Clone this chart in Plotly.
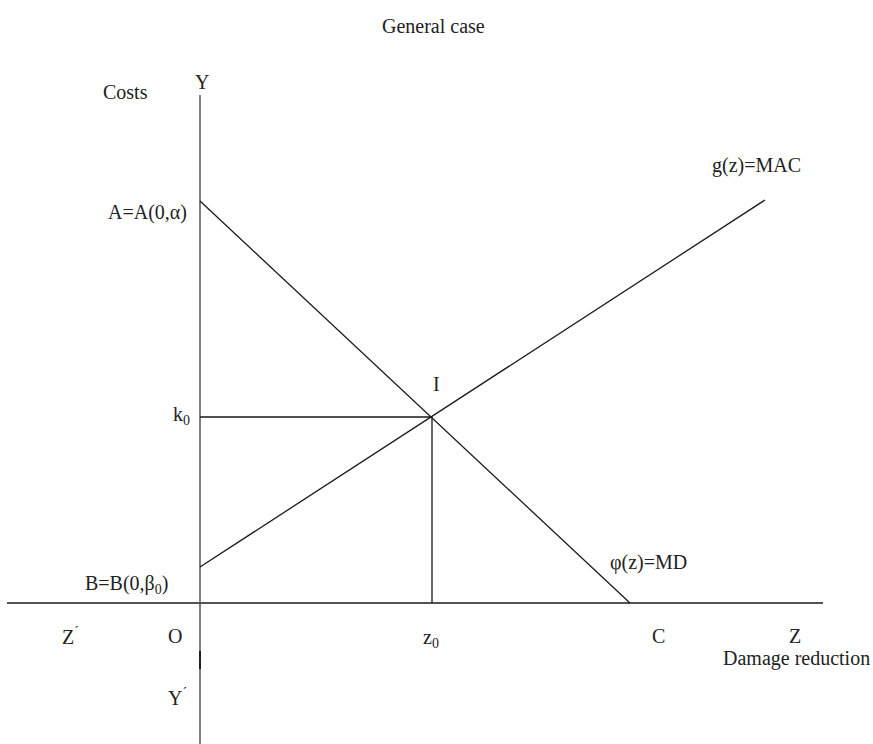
import plotly.graph_objects as go

# Marginal damage line phi(z)=MD : from A(0, alpha) down to C on the Z axis
md_z = [0, 430]
md_cost = [402, 0]

# Marginal abatement cost line g(z)=MAC : from B(0, beta0) upward
mac_z = [0, 565]
mac_cost = [36, 403]

# Equilibrium point I = (z0, k0)
z0 = 232
k0 = 186

# Axis extents (Z'Z horizontal, Y'Y vertical)
z_axis = [-193, 623]
y_axis = [508, -141]

FONT = "Liberation Serif"
LINE = "#1a1a1a"
AXIS = "#555555"

fig = go.Figure()

fig.add_trace(go.Scatter(x=z_axis, y=[0, 0], mode="lines",
                         line=dict(color=LINE, width=1.5), hoverinfo="skip"))
fig.add_trace(go.Scatter(x=[0, 0], y=y_axis, mode="lines",
                         line=dict(color=AXIS, width=1.5), hoverinfo="skip"))
# short darker stretch on the negative Y axis
fig.add_trace(go.Scatter(x=[0, 0], y=[-48, -66], mode="lines",
                         line=dict(color="#222222", width=2), hoverinfo="skip"))
fig.add_trace(go.Scatter(x=md_z, y=md_cost, mode="lines",
                         line=dict(color=LINE, width=1.3), hoverinfo="skip"))
fig.add_trace(go.Scatter(x=mac_z, y=mac_cost, mode="lines",
                         line=dict(color=LINE, width=1.3), hoverinfo="skip"))
# projections of I onto both axes
fig.add_trace(go.Scatter(x=[0, z0, z0], y=[k0, k0, 0], mode="lines",
                         line=dict(color=LINE, width=1.3), hoverinfo="skip"))

labels = [
    ("General case", 233, 577, "center"),
    ("Y", 2, 521, "center"),
    ("Costs", -75, 511, "center"),
    ("A=A(0,α)", -12, md_cost[0] - 11, "right"),
    ("k<sub>0</sub>", -9, k0 + 2, "right"),
    ("I", z0 + 4, k0 + 33, "center"),
    ("g(z)=MAC", 556, 438, "center"),
    ("B=B(0,β<sub>0</sub>)", -31, 19, "right"),
    ("φ(z)=MD", 448, 41, "center"),
    ("Z<sup>´</sup>", -130, -33, "center"),
    ("O", -25, -33, "center"),
    ("z<sub>0</sub>", z0 - 1, -35, "center"),
    ("C", md_z[1] + 28, -33, "center"),
    ("Z", 595, -33, "center"),
    ("Damage reduction", 671, -55, "right"),
    ("Y<sup>´</sup>", -23, -94, "center"),
]
for text, x, y, align in labels:
    fig.add_annotation(x=x, y=y, text=text, showarrow=False, xref="x", yref="y",
                       font=dict(family=FONT, size=20, color="#222222"),
                       xanchor=align, yanchor="middle", borderpad=0)

fig.update_layout(
    width=873, height=744,
    margin=dict(l=0, r=0, t=0, b=0),
    paper_bgcolor="white", plot_bgcolor="white",
    showlegend=False,
    xaxis=dict(range=[-200, 673], visible=False, fixedrange=True),
    yaxis=dict(range=[-141, 603], visible=False, fixedrange=True),
)

fig.write_html("out.html")
